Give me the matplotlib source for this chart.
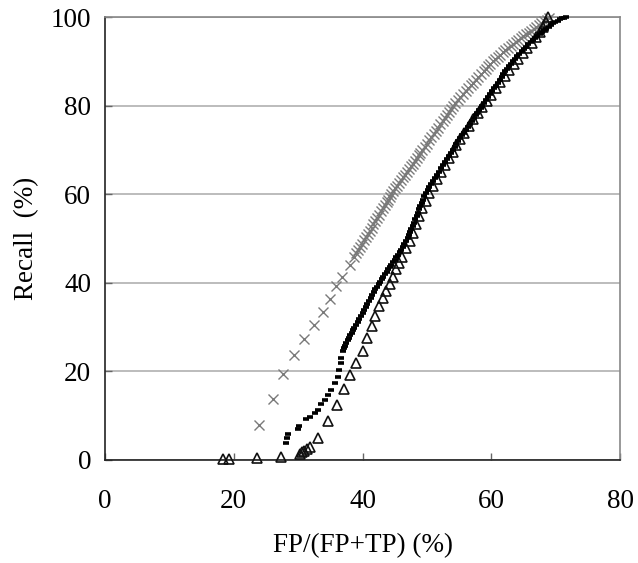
import matplotlib
matplotlib.use("Agg")
import matplotlib.pyplot as plt

# × series (gray) - sparse lower part and dense upper part
cross_x = [23.9, 26.1, 27.6, 29.3, 30.9, 32.4, 33.8, 35.0, 35.9, 36.8, 38.0, 38.7,
           39.3, 39.9, 40.5, 41.1, 41.7, 42.3, 42.9, 43.5, 44.0, 44.5,
           45.1, 45.7, 46.3, 46.9, 47.5, 48.1, 48.7, 49.3,
           50.0, 50.7, 51.4, 52.1, 52.8, 53.4, 54.0,
           54.8, 55.6, 56.4, 57.2, 58.0, 58.8, 59.5, 60.2,
           61.0, 61.8, 62.6, 63.4, 64.2, 65.0, 65.8, 66.6, 67.4, 68.2, 69.0]
cross_y = [7.9, 13.7, 19.4, 23.7, 27.2, 30.4, 33.4, 36.4, 39.3, 41.4, 44.0, 45.9,
           47.4, 48.8, 50.3, 51.7, 53.2, 54.6, 56.1, 57.6, 58.8, 60.0,
           61.3, 62.5, 63.8, 65.0, 66.3, 67.5, 68.8, 70.0,
           71.4, 72.9, 74.3, 75.8, 77.3, 78.6, 80.0,
           81.3, 82.6, 83.9, 85.2, 86.5, 87.8, 88.9, 90.0,
           91.0, 92.0, 92.9, 93.8, 94.7, 95.6, 96.5, 97.3, 98.1, 99.0, 99.8]
cross2_x = [39.0, 39.6, 40.2, 40.8, 41.4, 42.0, 42.6, 43.2, 43.75, 44.25, 44.8, 45.4,
            46.0, 46.6, 47.2, 47.8, 48.4, 49.0, 49.65, 50.35, 51.05, 51.75, 52.45,
            53.1, 53.7, 54.4, 55.2, 56.0, 56.8, 57.6, 58.4, 59.15, 59.85, 60.6, 61.4,
            62.2, 63.0, 63.8, 64.6, 65.4, 66.2, 67.0, 67.8, 68.6]
cross2_y = [46.65, 48.1, 49.55, 51.0, 52.45, 53.9, 55.35, 56.85, 58.2, 59.4, 60.65, 61.9,
            63.15, 64.4, 65.65, 66.9, 68.15, 69.4, 70.7, 72.15, 73.6, 75.05, 76.55,
            77.95, 79.3, 80.65, 81.95, 83.25, 84.55, 85.85, 87.15, 88.35, 89.45, 90.5, 91.5,
            92.45, 93.35, 94.25, 95.15, 96.05, 96.9, 97.7, 98.55, 99.4]

# filled black dash series
dash_x = [28.1, 28.3, 28.4, 30.0, 30.1, 31.2, 31.8, 32.6, 33.1, 33.6, 34.1, 34.6,
          35.1, 35.7, 36.2, 36.4, 36.6, 36.7, 36.9, 37.3, 37.7, 38.1, 38.5, 39.0,
          39.5, 40.0, 40.5, 41.0, 41.5, 42.0, 42.5, 43.0, 43.5, 44.0, 44.5, 45.0,
          45.5, 46.0, 46.5, 47.0, 47.4, 47.8, 48.2, 48.6, 49.0, 49.4, 49.8, 50.4,
          51.0, 51.6, 52.2, 52.8, 53.4, 54.0, 54.6, 55.2, 55.8, 56.4, 57.0, 57.6,
          58.1, 58.6, 59.2, 59.8, 60.4, 61.0, 61.6, 62.2, 62.8, 63.3, 64.0, 64.7,
          65.4, 66.1, 66.8, 67.5, 68.2, 68.9, 69.6, 70.3, 71.0, 71.6]
dash_y = [3.8, 4.9, 5.9, 6.9, 7.7, 9.2, 9.6, 10.5, 11.3, 12.6, 13.5, 14.7,
          15.8, 17.3, 18.8, 20.3, 21.8, 23.0, 24.6, 25.8, 27.0, 28.2, 29.3, 30.4,
          31.8, 33.1, 34.5, 35.9, 37.2, 38.5, 39.7, 40.8, 41.9, 43.0, 44.1, 45.2,
          46.3, 47.5, 48.8, 50.2, 51.5, 52.8, 54.3, 55.8, 57.3, 58.8, 60.2, 61.6,
          63.0, 64.4, 65.8, 67.2, 68.6, 70.0, 71.3, 72.6, 73.9, 75.2, 76.5, 77.8,
          79.0, 80.0, 81.3, 82.6, 83.9, 85.1, 86.4, 87.7, 88.9, 90.0, 91.2, 92.3,
          93.3, 94.3, 95.2, 96.1, 97.0, 97.8, 98.6, 99.2, 99.7, 100.0]
dash2_x = [37.1, 37.5, 37.9, 38.3, 38.75, 39.25, 39.75, 40.25, 40.75, 41.25, 41.75, 42.25,
           42.75, 43.25, 43.75, 44.25, 44.75, 45.25, 45.75, 46.25, 46.75, 47.2, 47.6, 48.0,
           48.4, 48.8, 49.2, 49.6, 50.1, 50.7, 51.3, 51.9, 52.5, 53.1, 53.7, 54.3, 54.9,
           55.5, 56.1, 56.7, 57.3, 57.85, 58.35, 58.9, 59.5, 60.1, 60.7, 61.3, 61.9, 62.5,
           63.05, 63.65, 64.35, 65.05, 65.75, 66.45, 67.15, 67.85, 68.55, 69.25, 69.95,
           70.65, 71.3]
dash2_y = [25.2, 26.4, 27.6, 28.75, 29.85, 31.1, 32.45, 33.8, 35.2, 36.55, 37.85, 39.1,
           40.25, 41.35, 42.45, 43.55, 44.65, 45.75, 46.9, 48.15, 49.5, 50.85, 52.15, 53.55,
           55.05, 56.55, 58.05, 59.5, 60.9, 62.3, 63.7, 65.1, 66.5, 67.9, 69.3, 70.65, 71.95,
           73.25, 74.55, 75.85, 77.15, 78.4, 79.5, 80.65, 81.95, 83.25, 84.5, 85.75, 87.05, 88.3,
           89.45, 90.6, 91.75, 92.8, 93.8, 94.75, 95.65, 96.55, 97.4, 98.2, 98.9,
           99.45, 99.85]

# open triangle series
tri_x = [18.4, 19.2, 23.6, 27.4, 30.3, 30.6, 30.9, 31.4, 31.9, 33.1, 34.6, 36.1,
         37.2, 38.1, 39.0, 40.0, 40.7, 41.4, 42.0, 42.6, 43.2, 43.7, 44.2, 44.7,
         45.2, 45.7, 46.2, 46.8, 47.3, 47.8, 48.3, 48.8, 49.3, 49.8, 50.4, 51.0,
         51.6, 52.2, 52.8, 53.4, 54.0, 54.6, 55.2, 55.8, 56.5, 57.2, 57.9, 58.6,
         59.3, 60.0, 60.7, 61.4, 62.1, 62.8, 63.5, 64.2, 64.9, 65.6, 66.3, 67.0,
         67.6, 68.1, 68.5, 68.8]
tri_y = [0.3, 0.3, 0.5, 0.7, 1.3, 1.7, 2.1, 2.5, 2.9, 5.0, 8.8, 12.3,
         16.1, 19.2, 21.8, 24.7, 27.6, 30.2, 32.5, 34.8, 36.6, 38.2, 39.8, 41.4,
         43.0, 44.5, 45.9, 47.8, 49.5, 51.3, 53.2, 55.0, 56.8, 58.5, 60.2, 61.8,
         63.4, 65.0, 66.6, 68.1, 69.6, 71.1, 72.5, 73.9, 75.4, 76.9, 78.3, 79.7,
         81.1, 82.5, 83.9, 85.3, 86.7, 88.0, 89.3, 90.6, 91.8, 93.0, 94.2, 95.4,
         96.6, 97.8, 98.9, 100.0]

x_ticks = [0, 20, 40, 60, 80]
y_ticks = [0, 20, 40, 60, 80, 100]

plt.rcParams['font.family'] = ['Liberation Serif', 'DejaVu Serif']

fig = plt.figure(figsize=(6.38, 5.63), dpi=100)
ax = fig.add_axes([0.1646, 0.183, 0.8072, 0.7868])

ax.yaxis.grid(True, color='#b0b0b0', linewidth=1.2)
ax.set_axisbelow(True)

cross_style = dict(linestyle='none', marker='x', markersize=7.5, markeredgewidth=1.0,
                   color='#7a7a7a', clip_on=False, zorder=3)
ax.plot(cross_x, cross_y, **cross_style)
ax.plot(cross2_x, cross2_y, **cross_style)

ax.plot(tri_x, tri_y, linestyle='none', marker='^', markersize=7,
        markerfacecolor='none', markeredgecolor='#111111', markeredgewidth=1.2,
        clip_on=False, zorder=4)

dash_style = dict(linestyle='none', marker='_', markersize=4.5, markeredgewidth=2.6,
                  color='#000000', clip_on=False, zorder=5)
ax.plot(dash_x, dash_y, **dash_style)
ax.plot(dash2_x, dash2_y, **dash_style)

ax.set_xlim(0, 80)
ax.set_ylim(0, 100)
ax.set_xticks(x_ticks)
ax.set_yticks(y_ticks)
ax.tick_params(axis='both', direction='in', length=5, width=1, color='#666666',
               labelsize=19.5)
ax.tick_params(axis='x', pad=21)
ax.tick_params(axis='y', pad=10)

for side in ['left', 'bottom']:
    ax.spines[side].set_color('#222222')
    ax.spines[side].set_linewidth(1.2)
for side in ['top', 'right']:
    ax.spines[side].set_color('#888888')
    ax.spines[side].set_linewidth(1.2)

ax.set_xlabel('FP/(FP+TP) (%)', fontsize=19.5, labelpad=14)
ax.set_ylabel('Recall  (%)', fontsize=19.5, labelpad=8)

fig.savefig('out.png', dpi=100)
